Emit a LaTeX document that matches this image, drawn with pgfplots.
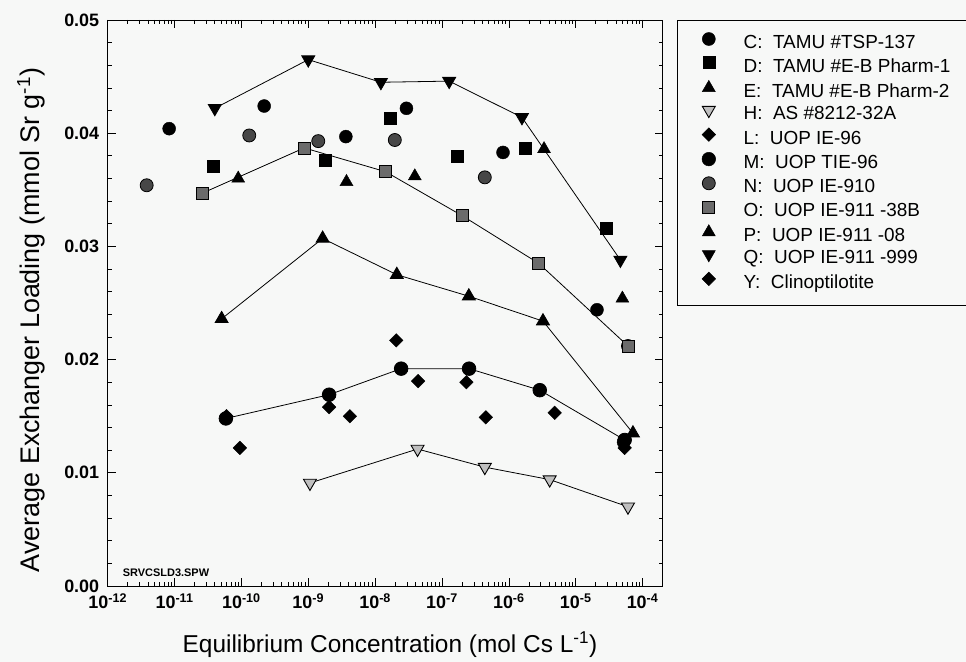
\documentclass[border=0pt]{standalone}
\usepackage{pgfplots}
\pgfplotsset{compat=1.18}
\usepackage{fontspec}
\setmainfont{Liberation Sans}
\definecolor{bgc}{rgb}{0.97,0.973,0.97}
\begin{document}
\begin{tikzpicture}
\fill[bgc] (0,0) rectangle (966bp,662bp);
\begin{axis}[
  at={(107.7bp,76bp)}, anchor=south west,
  scale only axis, width=555bp, height=566bp,
  xmode=log, xmin=1e-12, xmax=2e-4,
  ymin=0, ymax=0.05,
  scaled y ticks=false,
  axis line style={line width=1pt},
  xtick={1e-12,1e-11,1e-10,1e-9,1e-8,1e-7,1e-6,1e-5,1e-4},
  xticklabels={10\textsuperscript{-12},10\textsuperscript{-11},10\textsuperscript{-10},10\textsuperscript{-9},10\textsuperscript{-8},10\textsuperscript{-7},10\textsuperscript{-6},10\textsuperscript{-5},10\textsuperscript{-4}},
  minor xtick={2e-12,3e-12,4e-12,5e-12,6e-12,7e-12,8e-12,9e-12,
    2e-11,3e-11,4e-11,5e-11,6e-11,7e-11,8e-11,9e-11,
    2e-10,3e-10,4e-10,5e-10,6e-10,7e-10,8e-10,9e-10,
    2e-9,3e-9,4e-9,5e-9,6e-9,7e-9,8e-9,9e-9,
    2e-8,3e-8,4e-8,5e-8,6e-8,7e-8,8e-8,9e-8,
    2e-7,3e-7,4e-7,5e-7,6e-7,7e-7,8e-7,9e-7,
    2e-6,3e-6,4e-6,5e-6,6e-6,7e-6,8e-6,9e-6,
    2e-5,3e-5,4e-5,5e-5,6e-5,7e-5,8e-5,9e-5},
  ytick={0,0.01,0.02,0.03,0.04,0.05},
  yticklabels={0.00,0.01,0.02,0.03,0.04,0.05},
  minor ytick={0.002,0.004,0.006,0.008,0.012,0.014,0.016,0.018,0.022,0.024,0.026,0.028,0.032,0.034,0.036,0.038,0.042,0.044,0.046,0.048},
  tick align=inside,
  major tick length=8bp, minor tick length=4bp,
  every tick/.style={black, line width=0.7pt},
  ticklabel style={font=\bfseries\fontsize{18}{18}\selectfont},
  yticklabel style={xshift=-5bp},
  xticklabel style={yshift=-4bp},
  xlabel={Equilibrium Concentration (mol Cs L\textsuperscript{-1})},
  ylabel={Average Exchanger Loading (mmol Sr g\textsuperscript{-1})},
  xlabel style={font=\fontsize{24.5}{24.5}\selectfont, at={(rel axis cs:0.5086,-0.104)}, anchor=center},
  ylabel style={font=\fontsize{27}{27}\selectfont, at={(rel axis cs:-0.1382,0.47)}, anchor=center},
  legend style={at={(1.0249,1)}, anchor=north west, draw=black, line width=1pt,
    font=\fontsize{19}{19}\selectfont, fill=none,
    inner xsep=25bp, inner ysep=12bp, row sep=3.2bp,
    nodes={inner sep=0pt, text height=14bp, text depth=5bp},
    /tikz/column sep=28bp},
  legend cell align=left,
  legend image code/.code={\draw[#1, only marks, line width=0.5pt] plot coordinates {(0bp,5bp)};},
]
% C
\addplot[only marks, mark=*, mark size=6.5bp, mark options={fill=black, draw=black}] coordinates {
(8.3e-12,0.0404) (2.19e-10,0.0424) (3.65e-9,0.0397) (2.94e-8,0.0422) (8.18e-7,0.0383) (2.08e-5,0.0244) (5.2e-5,0.0127)};
\addlegendentry{C:\ \ TAMU \#TSP-137}
% D
\addplot[only marks, mark=square*, mark size=6bp, mark options={fill=black, draw=black}] coordinates {
(3.78e-11,0.0371) (1.77e-9,0.0376) (1.66e-8,0.0413) (1.71e-7,0.0380) (1.73e-6,0.0387) (2.88e-5,0.0316)};
\addlegendentry{D:\ \ TAMU \#E-B Pharm-1}
% E
\addplot[only marks, mark=triangle*, mark size=7.5bp, mark options={fill=black, draw=black}] coordinates {
(8.96e-11,0.0360) (3.73e-9,0.0357) (3.92e-8,0.0362) (3.36e-6,0.0386) (4.99e-5,0.0254)};
\addlegendentry{E:\ \ TAMU \#E-B Pharm-2}
% H
\addplot[black, line width=0.8pt, mark=triangle*, mark size=7.5bp, mark options={rotate=180, fill=black!25, draw=black, line width=0.9pt}] coordinates {
(1.06e-9,0.0091) (4.31e-8,0.0121) (4.37e-7,0.0105) (4.08e-6,0.0094) (6.05e-5,0.0070)};
\addlegendentry{H:\ \ AS \#8212-32A}
% L
\addplot[only marks, mark=square*, mark size=4.8bp, mark options={rotate=45, fill=black, draw=black}] coordinates {
(6.0e-11,0.0150) (9.5e-11,0.0122) (2.05e-9,0.0158) (4.19e-9,0.0150) (2.07e-8,0.0217)};
\addlegendentry{L:\ \ UOP IE-96}
% M
\addplot[black, line width=0.8pt, mark=*, mark size=6.8bp, mark options={fill=black, draw=black}] coordinates {
(5.86e-11,0.0148) (2.05e-9,0.0169) (2.45e-8,0.0192) (2.54e-7,0.0192) (2.90e-6,0.0173) (5.4e-5,0.0129)};
\addlegendentry{M:\ \ UOP TIE-96}
% N
\addplot[only marks, mark=*, mark size=6.5bp, mark options={fill=black!72, draw=black, line width=0.8pt}] coordinates {
(3.83e-12,0.0354) (1.31e-10,0.0398) (1.41e-9,0.0393) (1.97e-8,0.0394) (4.37e-7,0.0361) (6.05e-5,0.0212)};
\addlegendentry{N:\ \ UOP IE-910}
% O
\addplot[black, line width=0.8pt, mark=square*, mark size=6bp, mark options={fill=black!58, draw=black, line width=0.8pt}] coordinates {
(2.6e-11,0.0347) (8.7e-10,0.0387) (1.43e-8,0.0366) (2.02e-7,0.0327) (2.80e-6,0.0285) (6.05e-5,0.0212)};
\addlegendentry{O:\ \ UOP IE-911 -38B}
% P
\addplot[black, line width=0.8pt, mark=triangle*, mark size=7.5bp, mark options={fill=black, draw=black}] coordinates {
(5.06e-11,0.0236) (1.64e-9,0.0307) (2.11e-8,0.0275) (2.52e-7,0.0256) (3.24e-6,0.0234) (7.18e-5,0.0135)};
\addlegendentry{P:\ \ UOP IE-911 -08}
% Q
\addplot[black, line width=0.8pt, mark=triangle*, mark size=7.5bp, mark options={rotate=180, fill=black, draw=black}] coordinates {
(4.0e-11,0.0422) (1.0e-9,0.0465) (1.22e-8,0.0445) (1.28e-7,0.0446) (1.57e-6,0.0414) (4.66e-5,0.0288)};
\addlegendentry{Q:\ \ UOP IE-911 -999}
% Y
\addplot[only marks, mark=square*, mark size=4.8bp, mark options={rotate=45, fill=black, draw=black}] coordinates {
(4.4e-8,0.0181) (2.32e-7,0.0180) (4.52e-7,0.0149) (4.85e-6,0.0153) (5.4e-5,0.0122)};
\addlegendentry{Y:\ \ Clinoptilotite}
\node[anchor=west, font=\bfseries\fontsize{11}{11}\selectfont, inner sep=0pt] at (rel axis cs:0.027,0.0235) {SRVCSLD3.SPW};
\end{axis}
\pgfresetboundingbox
\useasboundingbox (0,0) rectangle (966bp,662bp);
\end{tikzpicture}
\end{document}
